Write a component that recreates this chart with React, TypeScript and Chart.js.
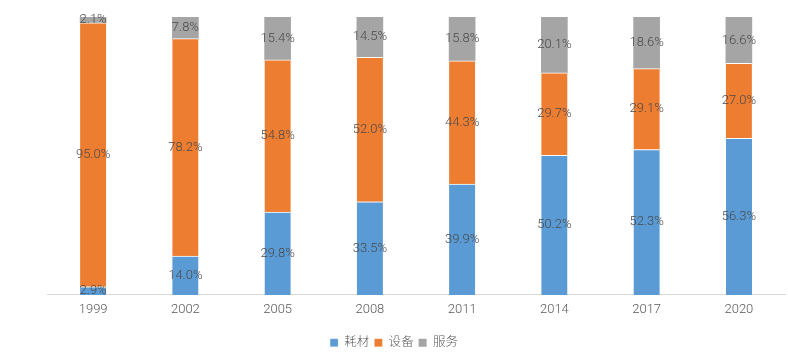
import React, { useEffect, useRef } from "react";
import { Chart, registerables } from "chart.js";

Chart.register(...registerables);

const years = ["1999", "2002", "2005", "2008", "2011", "2014", "2017", "2020"];
const consumables = [2.9, 14.0, 29.8, 33.5, 39.9, 50.2, 52.3, 56.3];
const equipment = [95.0, 78.2, 54.8, 52.0, 44.3, 29.7, 29.1, 27.0];
const services = [2.1, 7.8, 15.4, 14.5, 15.8, 20.1, 18.6, 16.6];

const FONT = "Roboto, 'Noto Sans CJK SC', sans-serif";

const labelPlugin = {
  id: "segLabels",
  afterDatasetsDraw(chart: any) {
    const ctx = chart.ctx;
    ctx.save();
    ctx.font = `300 13px ${FONT}`;
    ctx.fillStyle = "#4a4a4a";
    ctx.textAlign = "center";
    ctx.textBaseline = "middle";
    chart.data.datasets.forEach((ds: any, i: number) => {
      const meta = chart.getDatasetMeta(i);
      meta.data.forEach((el: any, j: number) => {
        const v = ds.data[j];
        const y = (el.y + el.base) / 2;
        ctx.fillText(v.toFixed(1) + "%", el.x, y);
      });
    });
    ctx.restore();
  },
};

export default function App() {
  const ref = useRef<HTMLCanvasElement>(null);
  useEffect(() => {
    const chart = new Chart(ref.current!, {
      type: "bar",
      data: {
        labels: years,
        datasets: [
          { label: "耗材", data: consumables, backgroundColor: "#5B9BD5", borderColor: "#ffffff", borderWidth: { top: 1 } as any, borderSkipped: false as any },
          { label: "设备", data: equipment, backgroundColor: "#ED7D31", borderColor: "#ffffff", borderWidth: { top: 1 } as any, borderSkipped: false as any },
          { label: "服务", data: services, backgroundColor: "#A5A5A5", borderColor: "#ffffff", borderWidth: 0 },
        ],
      },
      options: {
        animation: false,
        responsive: false,
        maintainAspectRatio: false,
        layout: { padding: { left: 3, right: 3, top: 17, bottom: 4 } },
        datasets: { bar: { barThickness: 26 } } as any,
        scales: {
          x: {
            stacked: true,
            grid: { display: false, drawTicks: false },
            border: { display: true, color: "#D9D9D9" },
            ticks: { color: "#595959", font: { family: FONT, size: 13, weight: "300" as any }, padding: 7 },
            afterFit: (scale: any) => { scale.height += 7; },
          },
          y: {
            stacked: true,
            display: true,
            min: 0,
            max: 100,
            grid: { display: false, drawTicks: false },
            border: { display: false },
            ticks: { display: false },
            afterFit: (scale: any) => { scale.width = 44; },
          },
        },
        plugins: {
          legend: {
            position: "bottom",
            labels: {
              boxWidth: 8,
              boxHeight: 8,
              padding: 5,
              color: "#595959",
              font: { family: FONT, size: 12.5, weight: "300" as any },
            },
          },
          tooltip: { enabled: false },
        },
      },
      plugins: [labelPlugin],
    });
    return () => chart.destroy();
  }, []);
  return (
    <div style={{ position: "fixed", left: 0, top: 0, width: 788, height: 363, background: "#fff" }}>
      <canvas ref={ref} width={788} height={363} style={{ display: "block" }} />
    </div>
  );
}
